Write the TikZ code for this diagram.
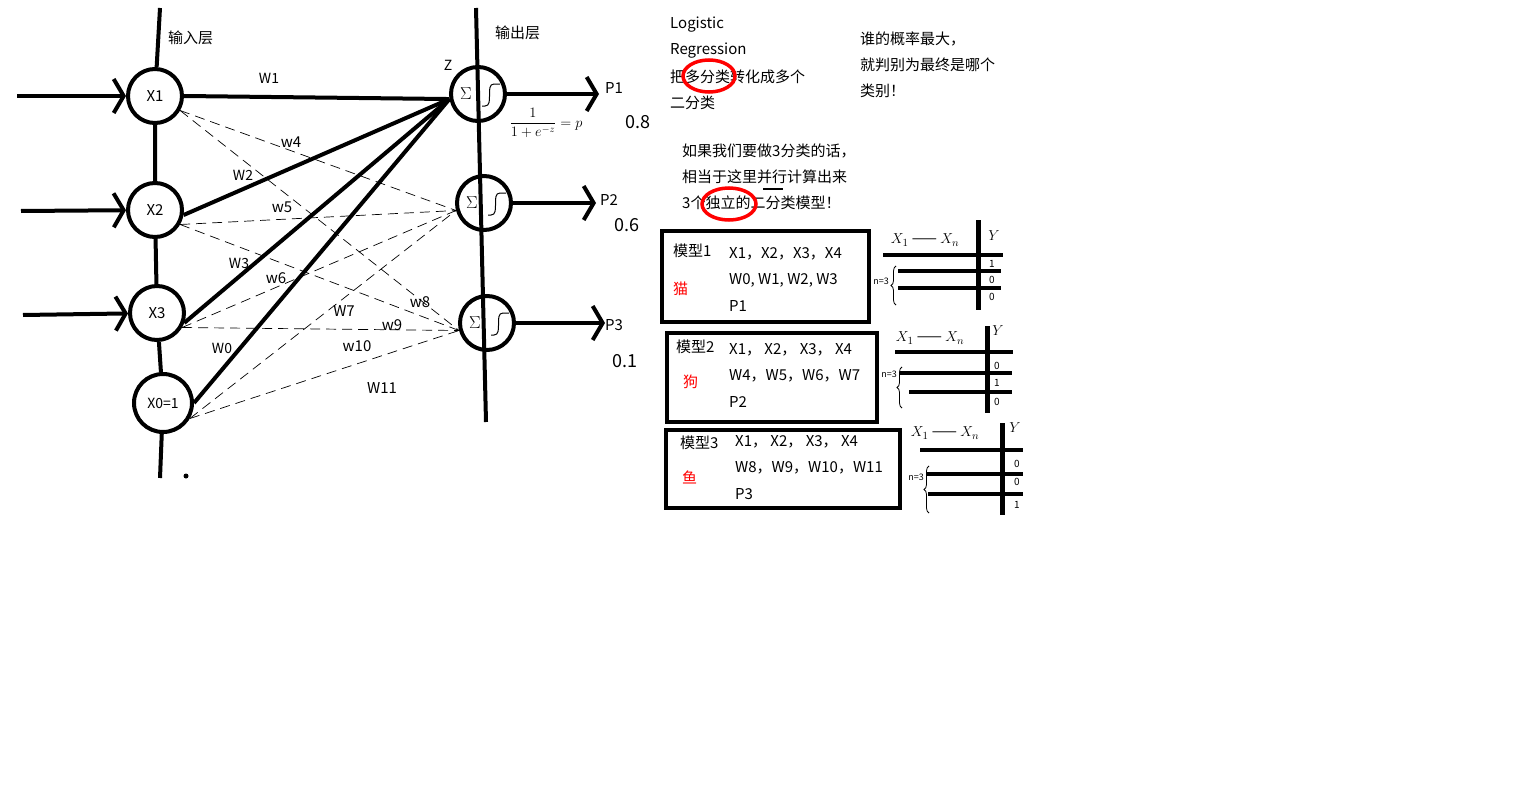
\documentclass[tikz,border=0pt]{standalone}
\usepackage{fontspec}
\setmainfont{Noto Sans CJK SC}
\usetikzlibrary{shapes.geometric, arrows.meta, positioning, decorations.pathreplacing}

\tikzset{
  neuron/.style={draw, circle, line width=4pt, minimum size=54pt, inner sep=0pt, font=\fontsize{15}{15}\selectfont},
  heavy/.style={line width=4pt},
  weak/.style={line width=0.7pt, dash pattern=on 10pt off 6pt},
  barb/.style={-{Straight Barb[length=10pt, width=34pt]}},
  txt/.style={anchor=west, inner sep=0pt, font=\fontsize{15}{15}\selectfont},
  hand/.style={inner sep=0pt, font=\fontsize{14}{14}\selectfont},
  ring/.style={draw=red, line width=3.5pt},
  modelbox/.style={draw, line width=4pt},
  nbrace/.style={decorate, decoration={brace, amplitude=5pt}, line width=0.8pt},
}

\begin{document}
\begin{tikzpicture}[x=1pt, y=-1pt]
  \useasboundingbox (0,0) rectangle (1531,808);
  % 输入层
  \node[neuron] (x1) at (155,96) {X1};
  \node[neuron] (x2) at (155,210) {X2};
  \node[neuron] (x3) at (157,313) {X3};
  \node[neuron, minimum size=58pt, font=\fontsize{14}{14}\selectfont] (x0) at (163,403) {X0=1};
  \coordinate (intop) at (160,8);
  \coordinate (inbot) at (160,478);
  \draw[heavy] (intop) -- (x1) -- (x2) -- (x3) -- (x0) -- (inbot);
  \fill (186,476) circle (2.5pt);
  \node[txt] at (168,38) {输入层};
  \foreach \n/\x/\y in {x1/17/96, x2/21/211, x3/23/315} {
    \coordinate (in-\n) at (\x,\y);
    \draw[heavy, barb] (in-\n) -- (\n);
  }
  % 输出层
  \node[neuron] (o1) at (478,94) {};
  \node[neuron] (o2) at (484,203) {};
  \node[neuron] (o3) at (487,323) {};
  \coordinate (outtop) at (476,8);
  \coordinate (outbot) at (486,422);
  \draw[heavy] (outtop) -- (outbot);
  \node[txt] at (495,33) {输出层};
  \foreach \o in {o1,o2,o3} {
    \node[font=\fontsize{16}{16}\selectfont] at ([xshift=-12pt]\o.center) {$\Sigma$};
    \draw[line width=1pt] (\o.center) ++(4,12) -- ++(3,0) to[out=0, in=180] ++(9,-22) -- ++(6,0);
  }
  \foreach \o/\l/\p/\x/\y in {o1/92/P1/605/88, o2/83/P2/600/200, o3/89/P3/605/325} {
    \draw[heavy, barb] (\o.east) -- ++(\l,0) coordinate (end-\o);
    \node[txt] at (\x,\y) {\p};
  }
  % 权重
  \foreach \n/\a in {x1/east, x2/350, x3/340, x0/east}
    \draw[heavy] (\n.\a) -- (o1.190);
  \foreach \t/\x/\y in {W1/269/78, W2/243/175, W3/239/263, W0/222/348}
    \node[hand] at (\x,\y) {\t};
  \foreach \n in {x1,x2,x3,x0}
    \foreach \o in {o2,o3}
      \draw[weak] (\n.330) -- (\o.195);
  \foreach \t/\x/\y in {w4/291/142, w5/282/207, w6/276/278, W7/344/311, w8/420/302, w9/392/325, w10/357/346, W11/382/388}
    \node[hand, font=\fontsize{15}{15}\selectfont] at (\x,\y) {\t};
  \node[hand] at (448,65) {Z};
  \node[hand] (sig) at (546,123) {$\displaystyle\frac{1}{1+e^{-z}}=p$};
  \foreach \v/\x/\y in {0.8/638/122, 0.6/627/225, 0.1/625/361}
    \node[hand, font=\fontsize{18}{18}\selectfont] at (\x,\y) {\v};
  % 说明文字
  \foreach \t/\y in {Logistic/25, Regression/51, 把多分类转化成多个/77, 二分类/103}
    \node[txt] at (670,\y) {\t};
  \foreach \t/\y in {谁的概率最大，/39, 就判别为最终是哪个/65, 类别！/91}
    \node[txt] at (860,\y) {\t};
  \foreach \t/\y in {如果我们要做3分类的话，/151, 相当于这里并行计算出来/177, 3个独立的二分类模型！/203}
    \node[txt] at (682,\y) {\t};
  \draw[ring] (709,76) ellipse (26pt and 16pt);
  \draw[ring] (729,204) ellipse (27pt and 16pt);
  \draw[line width=2pt] (763,189) -- (783,189);
  % 三个模型
  \draw[modelbox] (662,231) rectangle (869,322);
  \draw[modelbox] (667,333) rectangle (877,422);
  \draw[modelbox] (666,430) rectangle (900,508);
  \node[txt] at (673,251) {模型1};
  \node[txt, red] at (673,289) {猫};
  \node[txt] at (729,254) {X1，X2，X3，X4};
  \node[txt] at (729,280) {W0, W1, W2, W3};
  \node[txt] at (729,306) {P1};
  \node[txt] at (676,347) {模型2};
  \node[txt, red] at (683,382) {狗};
  \node[txt] at (729,350) {X1， X2， X3， X4};
  \node[txt] at (729,376) {W4，W5，W6，W7};
  \node[txt] at (729,402) {P2};
  \node[txt] at (680,443) {模型3};
  \node[txt, red] at (682,477) {鱼};
  \node[txt] at (735,442) {X1， X2， X3， X4};
  \node[txt] at (735,468) {W8，W9，W10，W11};
  \node[txt] at (735,494) {P3};
  % 数据表
  \foreach \r/\a/\b in {255/883/1003, 271/898/1001, 288/898/1001}
    \draw[heavy] (\a,\r) -- (\b,\r);
  \draw[line width=5pt] (978,220) -- (978,310);
  \foreach \v/\y in {1/264, 0/280, 0/297}
    \node[hand, font=\fontsize{10}{10}\selectfont] at (992,\y) {\v};
  \node[hand, font=\fontsize{15}{15}\selectfont] at (925,240) {$X_1$ —— $X_n$};
  \node[hand, font=\fontsize{15}{15}\selectfont] at (994,236) {$Y$};
  \node[hand, font=\fontsize{9}{9}\selectfont] at (881,281) {n=3};
  \draw[nbrace] (896,305) -- (896,266);
  \foreach \r/\a/\b in {352/895/1013, 373/900/1012, 392/909/1012}
    \draw[heavy] (\a,\r) -- (\b,\r);
  \draw[line width=5pt] (987,326) -- (987,413);
  \foreach \v/\y in {0/366, 1/383, 0/402}
    \node[hand, font=\fontsize{10}{10}\selectfont] at (997,\y) {\v};
  \node[hand, font=\fontsize{15}{15}\selectfont] at (930,338) {$X_1$ —— $X_n$};
  \node[hand, font=\fontsize{15}{15}\selectfont] at (998,331) {$Y$};
  \node[hand, font=\fontsize{9}{9}\selectfont] at (889,374) {n=3};
  \draw[nbrace] (902,408) -- (902,367);
  \foreach \r/\a/\b in {450/920/1023, 474/927/1023, 494/928/1023}
    \draw[heavy] (\a,\r) -- (\b,\r);
  \draw[line width=5pt] (1002,423) -- (1002,515);
  \foreach \v/\y in {0/464, 0/482, 1/505}
    \node[hand, font=\fontsize{10}{10}\selectfont] at (1017,\y) {\v};
  \node[hand, font=\fontsize{15}{15}\selectfont] at (945,433) {$X_1$ —— $X_n$};
  \node[hand, font=\fontsize{15}{15}\selectfont] at (1015,428) {$Y$};
  \node[hand, font=\fontsize{9}{9}\selectfont] at (916,477) {n=3};
  \draw[nbrace] (929,513) -- (929,466);
\end{tikzpicture}
\end{document}
